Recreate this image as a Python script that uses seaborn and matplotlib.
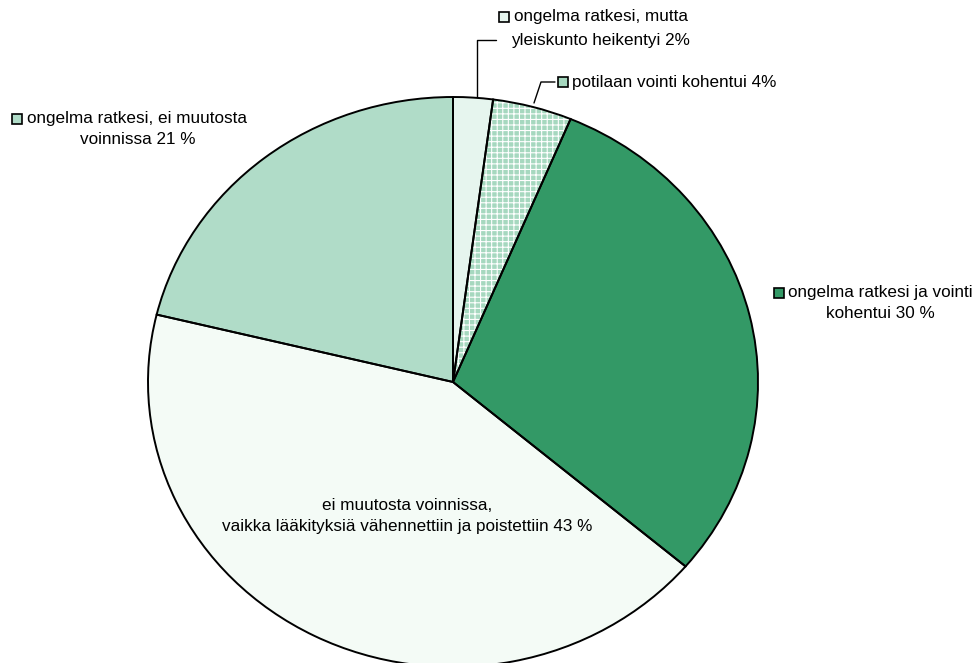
import matplotlib
matplotlib.use("Agg")
import matplotlib.pyplot as plt
import seaborn as sns
from matplotlib.patches import Rectangle
from matplotlib.lines import Line2D

sns.set_style("white")
plt.rcParams['font.family'] = ['Liberation Sans', 'DejaVu Sans']
plt.rcParams['hatch.linewidth'] = 0.8

categories = [
    "ongelma ratkesi, mutta\nyleiskunto heikentyi",
    "potilaan vointi kohentui",
    "ongelma ratkesi ja vointi\nkohentui",
    "ei muutosta voinnissa,\nvaikka lääkityksiä vähennettiin ja poistettiin",
    "ongelma ratkesi, ei muutosta\nvoinnissa",
]
values = [2.1, 4.2, 29.9, 42.6, 21.2]
pct_labels = ["2%", "4%", "30 %", "43 %", "21 %"]
colors = sns.color_palette(["#e6f5ee", "#a6d8bf", "#339966", "#f4fbf6", "#b0dcc8"])
hatches = [None, "+++", None, None, None]

W, H = 978, 663
fig = plt.figure(figsize=(W / 100, H / 100), dpi=100)

# pie axes: ellipse bounding box in pixels (left, top, right, bottom)
L, T, R, B = 148, 97, 758, 667
ax = fig.add_axes([L / W, 1 - B / H, (R - L) / W, (B - T) / H])
ax.axis('off')

wedges, _ = ax.pie(values, colors=colors, startangle=90, counterclock=False,
                   radius=1, wedgeprops=dict(linewidth=0))
for w, h in zip(wedges, hatches):
    if h:
        w.set_hatch(h)
        w.set_edgecolor("white")
        w.set_linewidth(0)
ax.pie(values, colors=["none"] * len(values), startangle=90, counterclock=False,
       radius=1, wedgeprops=dict(linewidth=1.4, edgecolor="black", fill=False))
ax.set_xlim(-1, 1)
ax.set_ylim(-1, 1)
ax.set_aspect('auto')

fs = 12.3

def px(x, y):
    return x / W, 1 - y / H

def square(x, y, color, hatch=None):
    s = 10
    r = Rectangle(px(x, y + s / 2), s / W, s / H, transform=fig.transFigure,
                  facecolor=color, edgecolor="black", linewidth=1.2, hatch=hatch)
    fig.add_artist(r)

def line(points):
    xs = [p[0] / W for p in points]
    ys = [1 - p[1] / H for p in points]
    fig.add_artist(Line2D(xs, ys, transform=fig.transFigure, color="black", linewidth=1))

def txt(x, y, s, ha="center"):
    fig.text(*px(x, y), s, ha=ha, va="center", fontsize=fs, color="black")

# 2% label
l1, l2 = categories[0].split("\n")
square(499, 17, colors[0])
txt(514, 17, l1, ha="left")
txt(600, 40, l2 + " " + pct_labels[0])
line([(477, 97), (477, 40), (496, 40)])

# 4% label
square(558, 82, colors[1])
txt(572, 82, categories[1] + " " + pct_labels[1], ha="left")
line([(534, 103), (541, 82), (555, 82)])

# 30% label
l1, l2 = categories[2].split("\n")
square(774, 293, colors[2])
txt(788, 293, l1, ha="left")
txt(880, 314, l2 + " " + pct_labels[2])

# 43% label
l1, l2 = categories[3].split("\n")
txt(407, 505, l1)
txt(407, 527, l2 + " " + pct_labels[3])

# 21% label
l1, l2 = categories[4].split("\n")
square(12, 119, colors[4])
txt(27, 119, l1, ha="left")
txt(138, 140, l2 + " " + pct_labels[4])

fig.savefig("out.png", dpi=100)
